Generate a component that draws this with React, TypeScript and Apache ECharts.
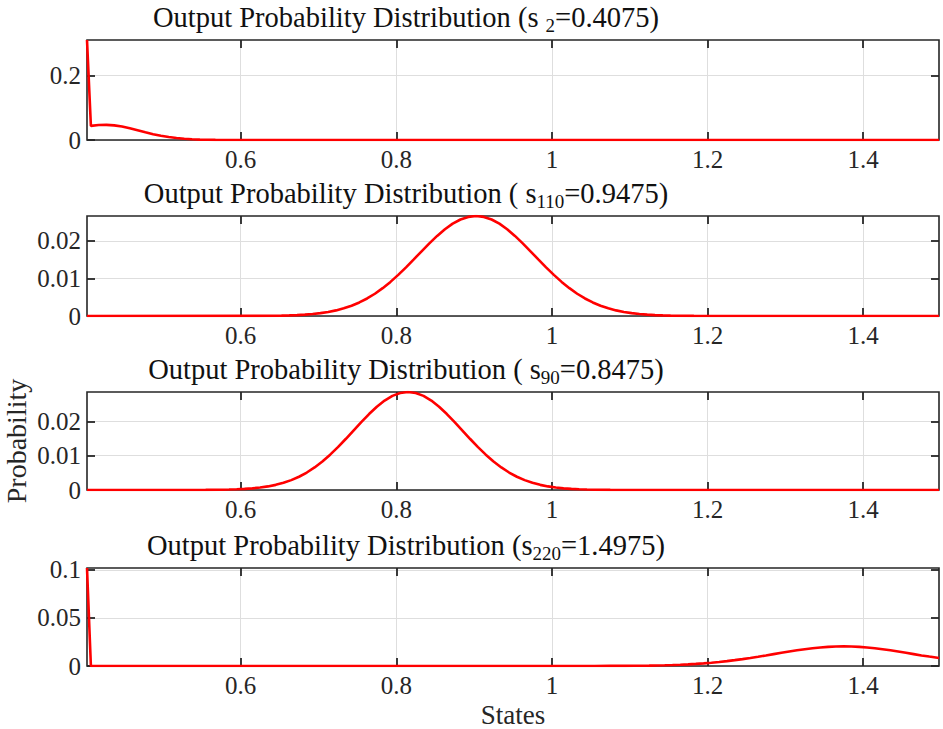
import React, { useEffect, useRef } from "react";
import * as echarts from "echarts";

// ---------- data ----------
const xTicks = [0.6, 0.8, 1, 1.2, 1.4];
const xMin = 0.4025;
const xMax = 1.4975;

// panel 1: s_2 = 0.4075
const states1 = [0.4025, 0.4075, 0.4175, 0.4275, 0.4375, 0.4475, 0.4575, 0.4675, 0.4775, 0.4875, 0.4975, 0.5075, 0.5175, 0.5275, 0.5375, 0.5475, 0.5575, 0.5675, 0.5775, 0.5875, 0.5975, 0.6175, 1.4975];
const prob1 = [0.31, 0.0437, 0.0464, 0.047, 0.0453, 0.0416, 0.0362, 0.0300, 0.0238, 0.0181, 0.0131, 0.0091, 0.006, 0.0038, 0.0022, 0.0013, 0.0007, 0.0004, 0.0002, 0.0001, 0.00003, 0, 0];

// panel 2: s_110 = 0.9475
const states2 = [0.4025, 0.6225, 0.6525, 0.6625, 0.6725, 0.6825, 0.6925, 0.7025, 0.7125, 0.7225, 0.7325, 0.7425, 0.7525, 0.7625, 0.7725, 0.7825, 0.7925, 0.8025, 0.8125, 0.8225, 0.8325, 0.8425, 0.8525, 0.8625, 0.8725, 0.8825, 0.8925, 0.9025, 0.9125, 0.9225, 0.9325, 0.9425, 0.9525, 0.9625, 0.9725, 0.9825, 0.9925, 1.0025, 1.0125, 1.0225, 1.0325, 1.0425, 1.0525, 1.0625, 1.0725, 1.0825, 1.0925, 1.1025, 1.1125, 1.1225, 1.1325, 1.1425, 1.1525, 1.1825, 1.4975];
const prob2 = [0, 0.000025, 0.0001, 0.00016, 0.00024, 0.00036, 0.00053, 0.00076, 0.00107, 0.00149, 0.00204, 0.00273, 0.0036, 0.00466, 0.00592, 0.0074, 0.00907, 0.01094, 0.01295, 0.01506, 0.01721, 0.01932, 0.0213, 0.02307, 0.02456, 0.02567, 0.02636, 0.0266, 0.02636, 0.02567, 0.02456, 0.02307, 0.0213, 0.01932, 0.01721, 0.01506, 0.01295, 0.01094, 0.00907, 0.0074, 0.00592, 0.00466, 0.0036, 0.00273, 0.00204, 0.00149, 0.00107, 0.00076, 0.00053, 0.00036, 0.00024, 0.00016, 0.0001, 0.000025, 0];

// panel 3: s_90 = 0.8475
const states3 = [0.4025, 0.555, 0.575, 0.585, 0.595, 0.605, 0.615, 0.625, 0.635, 0.645, 0.655, 0.665, 0.675, 0.685, 0.695, 0.705, 0.715, 0.725, 0.735, 0.745, 0.755, 0.765, 0.775, 0.785, 0.795, 0.805, 0.815, 0.825, 0.835, 0.845, 0.855, 0.865, 0.875, 0.885, 0.895, 0.905, 0.915, 0.925, 0.935, 0.945, 0.955, 0.965, 0.975, 0.985, 0.995, 1.005, 1.015, 1.025, 1.035, 1.045, 1.055, 1.075, 1.4975];
const prob3 = [0, 0.00003, 0.00008, 0.00013, 0.0002, 0.00032, 0.00048, 0.00072, 0.00105, 0.0015, 0.0021, 0.00288, 0.00387, 0.0051, 0.00658, 0.00832, 0.01031, 0.01251, 0.01488, 0.01735, 0.01981, 0.02216, 0.02429, 0.02609, 0.02746, 0.02831, 0.0286, 0.02831, 0.02746, 0.02609, 0.02429, 0.02216, 0.01981, 0.01735, 0.01488, 0.01251, 0.01031, 0.00832, 0.00658, 0.0051, 0.00387, 0.00288, 0.0021, 0.0015, 0.00105, 0.00072, 0.00048, 0.00032, 0.0002, 0.00013, 0.00008, 0.00003, 0];

// panel 4: s_220 = 1.4975
const states4 = [0.4025, 0.4075, 1.025, 1.055, 1.075, 1.095, 1.105, 1.115, 1.125, 1.135, 1.145, 1.155, 1.165, 1.175, 1.185, 1.195, 1.205, 1.215, 1.225, 1.235, 1.245, 1.255, 1.265, 1.275, 1.285, 1.295, 1.305, 1.315, 1.325, 1.335, 1.345, 1.355, 1.365, 1.375, 1.385, 1.395, 1.405, 1.415, 1.425, 1.435, 1.445, 1.455, 1.465, 1.475, 1.485, 1.4975];
const prob4 = [0.102, 0, 0.00001, 0.00004, 0.00008, 0.00016, 0.00023, 0.00031, 0.00043, 0.00058, 0.00078, 0.00103, 0.00134, 0.00173, 0.0022, 0.00276, 0.00343, 0.0042, 0.00509, 0.00608, 0.00719, 0.00839, 0.00967, 0.011, 0.01237, 0.01374, 0.01508, 0.01634, 0.01748, 0.01848, 0.0193, 0.0199, 0.02027, 0.0204, 0.02027, 0.0199, 0.0193, 0.01848, 0.01748, 0.01634, 0.01508, 0.01374, 0.01237, 0.011, 0.0098, 0.0084];

const panelStates = [states1, states2, states3, states4];
const panelProbs = [prob1, prob2, prob3, prob4];
const yMaxes = [0.31, 0.0266, 0.0286, 0.102];
const yTicks = [[0, 0.2], [0, 0.01, 0.02], [0, 0.01, 0.02], [0, 0.05, 0.1]];
const titleIndex = ["2", "110", "90", "220"];
const titleValue = ["0.4075", "0.9475", "0.8475", "1.4975"];
const titleOpenParen = ["(", "( ", "( ", "("];
const titleSubGap = [" ", "", "", ""];

// ---------- layout / style ----------
const FONT = "'Liberation Serif', 'Times New Roman', serif";
const AX = "#262626";
const GRIDC = "#dedede";
const gridTops = [40, 216, 392, 568];
const gridHeights = [100, 100, 98, 98];
const titleY = [17.5, 193.5, 369.5, 545.5];

export default function App() {
  const ref = useRef<HTMLDivElement>(null);

  useEffect(() => {
    if (!ref.current) return;
    const chart = echarts.init(ref.current, undefined, { renderer: "svg" });

    const grids = gridTops.map((t, i) => ({
      left: 87,
      right: 4,
      top: t,
      height: gridHeights[i],
      containLabel: false,
      show: true,
      borderColor: AX,
      borderWidth: 1.6,
      backgroundColor: "transparent",
      z: 3,
    }));

    const mkTick = (vals: number[]) => ({
      show: true,
      inside: true,
      length: 8,
      lineStyle: { color: AX, width: 1.8 },
      customValues: vals,
    });

    const xBottom = gridTops.map((_, i) => ({
      type: "value",
      gridIndex: i,
      min: xMin,
      max: xMax,
      position: "bottom",
      axisLine: { show: false, onZero: false },
      axisTick: mkTick(xTicks),
      axisLabel: {
        show: true,
        customValues: xTicks,
        margin: 7,
        fontFamily: FONT,
        fontSize: 25,
        color: AX,
        formatter: (v: number) => String(v),
      },
      splitLine: { show: true, lineStyle: { color: GRIDC, width: 1 } },
    }));
    const xTop = gridTops.map((_, i) => ({
      type: "value",
      gridIndex: i,
      min: xMin,
      max: xMax,
      position: "top",
      axisLine: { show: false, onZero: false },
      axisTick: mkTick(xTicks),
      axisLabel: { show: false },
      splitLine: { show: false },
    }));
    const yLeft = gridTops.map((_, i) => ({
      type: "value",
      gridIndex: i,
      min: 0,
      max: yMaxes[i],
      position: "left",
      axisLine: { show: false, onZero: false },
      axisTick: mkTick(yTicks[i]),
      axisLabel: {
        show: true,
        customValues: yTicks[i],
        margin: 6,
        fontFamily: FONT,
        fontSize: 25,
        color: AX,
        formatter: (v: number) => String(v),
      },
      splitLine: { show: true, lineStyle: { color: GRIDC, width: 1 } },
    }));
    const yRight = gridTops.map((_, i) => ({
      type: "value",
      gridIndex: i,
      min: 0,
      max: yMaxes[i],
      position: "right",
      axisLine: { show: false, onZero: false },
      axisTick: mkTick(yTicks[i]),
      axisLabel: { show: false },
      splitLine: { show: false },
    }));

    const series = panelStates.map((st, i) => ({
      type: "line",
      xAxisIndex: i,
      yAxisIndex: i,
      data: st.map((x, k) => [x, panelProbs[i][k]]),
      showSymbol: false,
      symbol: "none",
      lineStyle: { color: "#ff0000", width: 2.6 },
      itemStyle: { color: "#ff0000" },
      z: 5,
    }));

    const titleRich = {
      n: { fontFamily: FONT, fontSize: 28.5, lineHeight: 34, fill: "#111" },
      sub: { fontFamily: FONT, fontSize: 19, lineHeight: 19, verticalAlign: "bottom", fill: "#111" },
    };

    const titles = gridTops.map((_, i) => ({
      type: "text",
      x: 406,
      y: titleY[i],
      style: {
        text: `{n|Output Probability Distribution ${titleOpenParen[i]}s${titleSubGap[i]}}{sub|${titleIndex[i]}}{n|=${titleValue[i]})}`,
        rich: titleRich,
        align: "center",
        verticalAlign: "middle",
        fontFamily: FONT,
        fontSize: 28.5,
        fill: "#111",
      },
    }));

    chart.setOption({
      animation: false,
      backgroundColor: "#ffffff",
      grid: grids,
      xAxis: [...xBottom, ...xTop],
      yAxis: [...yLeft, ...yRight],
      series,
      graphic: [
        ...titles,
        {
          type: "text",
          x: 16,
          y: 441,
          rotation: Math.PI / 2,
          style: {
            text: "Probability",
            align: "center",
            verticalAlign: "middle",
            fontFamily: FONT,
            fontSize: 28,
            fill: AX,
          },
        },
        {
          type: "text",
          x: 513,
          y: 715,
          style: {
            text: "States",
            align: "center",
            verticalAlign: "middle",
            fontFamily: FONT,
            fontSize: 27,
            fill: AX,
          },
        },
      ],
    });

    return () => chart.dispose();
  }, []);

  return (
    <div
      ref={ref}
      style={{ position: "absolute", left: 0, top: 0, width: 943, height: 729 }}
    />
  );
}
